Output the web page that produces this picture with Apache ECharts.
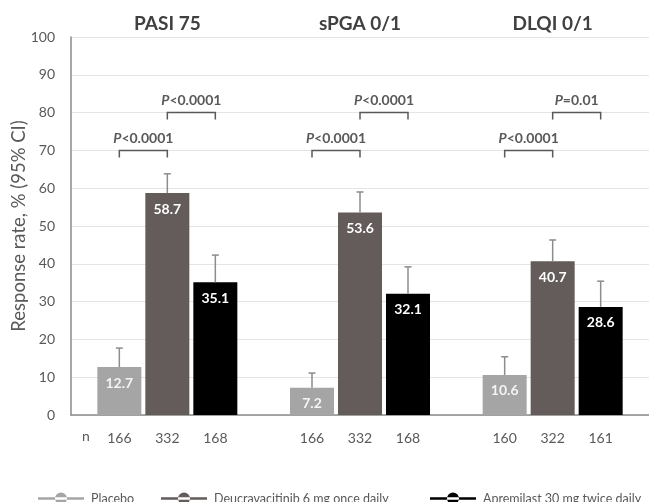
<!DOCTYPE html>
<html>
<head>
<meta charset="utf-8">
<script src="https://cdn.jsdelivr.net/npm/echarts@6/dist/echarts.min.js"></script>
<style>
  html, body { margin: 0; padding: 0; background: #ffffff; }
  #chart { width: 649px; height: 502px; }
</style>
</head>
<body>
<div id="chart"></div>
<script>
// ---- data ----
const categories = ['PASI 75', 'sPGA 0/1', 'DLQI 0/1'];
const seriesNames = ['Placebo', 'Deucravacitinib 6 mg once daily', 'Apremilast 30 mg twice daily'];
const placebo = [12.7, 7.2, 10.6];
const deucra = [58.7, 53.6, 40.7];
const aprem = [35.1, 32.1, 28.6];
const placeboUpperCI = [17.7, 11.1, 15.4];
const deucraUpperCI = [63.8, 59.0, 46.3];
const apremUpperCI = [42.3, 39.2, 35.4];
const nPlacebo = [166, 166, 160];
const nDeucra = [332, 332, 322];
const nAprem = [168, 168, 161];
const pPlaceboVsDeucra = ['<0.0001', '<0.0001', '<0.0001'];
const pDeucraVsAprem = ['<0.0001', '<0.0001', '=0.01'];
const bracketLevelLow = 70;
const bracketLevelHigh = 80;
const yMin = 0, yMax = 100, yInterval = 10;

// ---- style ----
const FONT = 'Lato';
const TEXT = '#595959';
const colors = ['#a5a5a5', '#635c5b', '#000000'];
const BAR_W = 44;
const BAR_STEP = 48;
const CAP = 3.5;
const TICK = 7;

const chart = echarts.init(document.getElementById('chart'), null, { renderer: 'canvas' });

function errorRenderer(k, color) {
  return function (params, api) {
    const cat = api.value(0);
    const base = api.coord([cat, api.value(1)]);
    const up = api.coord([cat, api.value(2)]);
    const x = base[0] + (k - 1) * BAR_STEP;
    return {
      type: 'group',
      children: [
        { type: 'line', shape: { x1: x, y1: base[1], x2: x, y2: up[1] }, style: { stroke: color, lineWidth: 1.5 } },
        { type: 'line', shape: { x1: x - CAP, y1: up[1], x2: x + CAP, y2: up[1] }, style: { stroke: color, lineWidth: 1.5 } }
      ]
    };
  };
}

const bracketTexts = [];
const bracketData = [];
categories.forEach((c, i) => {
  bracketData.push([i, bracketLevelLow, 0, 1]);
  bracketTexts.push(pPlaceboVsDeucra[i]);
  bracketData.push([i, bracketLevelHigh, 1, 2]);
  bracketTexts.push(pDeucraVsAprem[i]);
});

function bracketRenderer(params, api) {
  const cat = api.value(0);
  const p = api.coord([cat, api.value(1)]);
  const x1 = p[0] + (api.value(2) - 1) * BAR_STEP;
  const x2 = p[0] + (api.value(3) - 1) * BAR_STEP;
  const y = p[1];
  return {
    type: 'group',
    children: [
      { type: 'polyline', shape: { points: [[x1, y + TICK], [x1, y], [x2, y], [x2, y + TICK]] },
        style: { stroke: TEXT, lineWidth: 1.5, fill: null } },
      { type: 'text', style: {
          text: '{i|P}{n|' + bracketTexts[params.dataIndex] + '}',
          x: (x1 + x2) / 2, y: y - 12, align: 'center', verticalAlign: 'middle',
          rich: {
            i: { fontFamily: FONT, fontSize: 14, fontStyle: 'italic', fontWeight: 'bold', fill: TEXT },
            n: { fontFamily: FONT, fontSize: 14, fontWeight: 'bold', fill: TEXT }
          }
      } }
    ]
  };
}

const legendIcon = 'path://M0,5h46v2.5h-46z M29,6.25a6,6 0 1,0 -12,0a6,6 0 1,0 12,0z';

function barSeries(k, values) {
  return {
    name: seriesNames[k],
    type: 'bar',
    data: values,
    barWidth: BAR_W,
    barGap: '9.09%',
    itemStyle: { color: colors[k] },
    label: {
      show: true, position: 'insideTop', distance: 9,
      color: k === 0 ? '#f4f4f4' : '#ffffff',
      fontFamily: FONT, fontSize: 14, fontWeight: 'bold',
      formatter: (p) => p.value.toFixed(1)
    },
    z: 2
  };
}

function errorSeries(k, values, upper) {
  return {
    type: 'custom',
    renderItem: errorRenderer(k, '#8c8c8c'),
    data: values.map((v, i) => [i, v, upper[i]]),
    clip: false,
    silent: true,
    z: 5
  };
}

const option = {
  animation: false,
  backgroundColor: '#ffffff',
  textStyle: { fontFamily: FONT },
  grid: { left: 71, right: 0, top: 37, bottom: 87, containLabel: false, outerBoundsMode: 'none' },
  legend: [
    { data: [seriesNames[0]], left: 38, top: 492 },
    { data: [seriesNames[1]], left: 161, top: 492 },
    { data: [seriesNames[2]], left: 430, top: 492 }
  ].map(l => Object.assign(l, {
    icon: legendIcon, itemWidth: 46, itemHeight: 12.5, itemGap: 8, padding: 0,
    textStyle: { fontFamily: FONT, fontSize: 12.5, color: TEXT, padding: [0, 0, 0, 2] },
    selectedMode: false
  })),
  xAxis: [
    {
      type: 'category', data: categories, position: 'bottom',
      axisLine: { show: true, lineStyle: { color: '#8a8a8a', width: 1.5 } },
      axisTick: { show: false },
      axisLabel: {
        margin: 16,
        formatter: (v, i) => '{a|' + nPlacebo[i] + '}{a|' + nDeucra[i] + '}{a|' + nAprem[i] + '}',
        rich: { a: { width: BAR_STEP, align: 'center', fontFamily: FONT, fontSize: 14, color: TEXT } }
      }
    },
    {
      type: 'category', data: categories, position: 'top',
      axisLine: { show: false }, axisTick: { show: false },
      axisLabel: { margin: 4, fontFamily: FONT, fontSize: 19, fontWeight: 'bold', color: '#404040' }
    }
  ],
  yAxis: {
    type: 'value', min: yMin, max: yMax, interval: yInterval,
    name: 'Response rate, % (95% CI)', nameLocation: 'middle', nameGap: 42,
    nameMoveOverlap: false,
    nameTextStyle: { fontFamily: FONT, fontSize: 18.5, color: TEXT },
    axisLine: { show: true, lineStyle: { color: '#8a8a8a', width: 1.5 } },
    axisTick: { show: false },
    axisLabel: { margin: 16, fontFamily: FONT, fontSize: 14, color: TEXT },
    splitLine: { show: true, lineStyle: { color: '#e4e4e4', width: 1.2 } }
  },
  graphic: [
    { type: 'text', left: 82, top: 429, style: { text: 'n', fontFamily: FONT, fontSize: 14, fill: TEXT } }
  ],
  series: [
    barSeries(0, placebo),
    barSeries(1, deucra),
    barSeries(2, aprem),
    errorSeries(0, placebo, placeboUpperCI),
    errorSeries(1, deucra, deucraUpperCI),
    errorSeries(2, aprem, apremUpperCI),
    { type: 'custom', renderItem: bracketRenderer, data: bracketData, clip: false, silent: true, z: 6 }
  ]
};

chart.setOption(option);
</script>
</body>
</html>
